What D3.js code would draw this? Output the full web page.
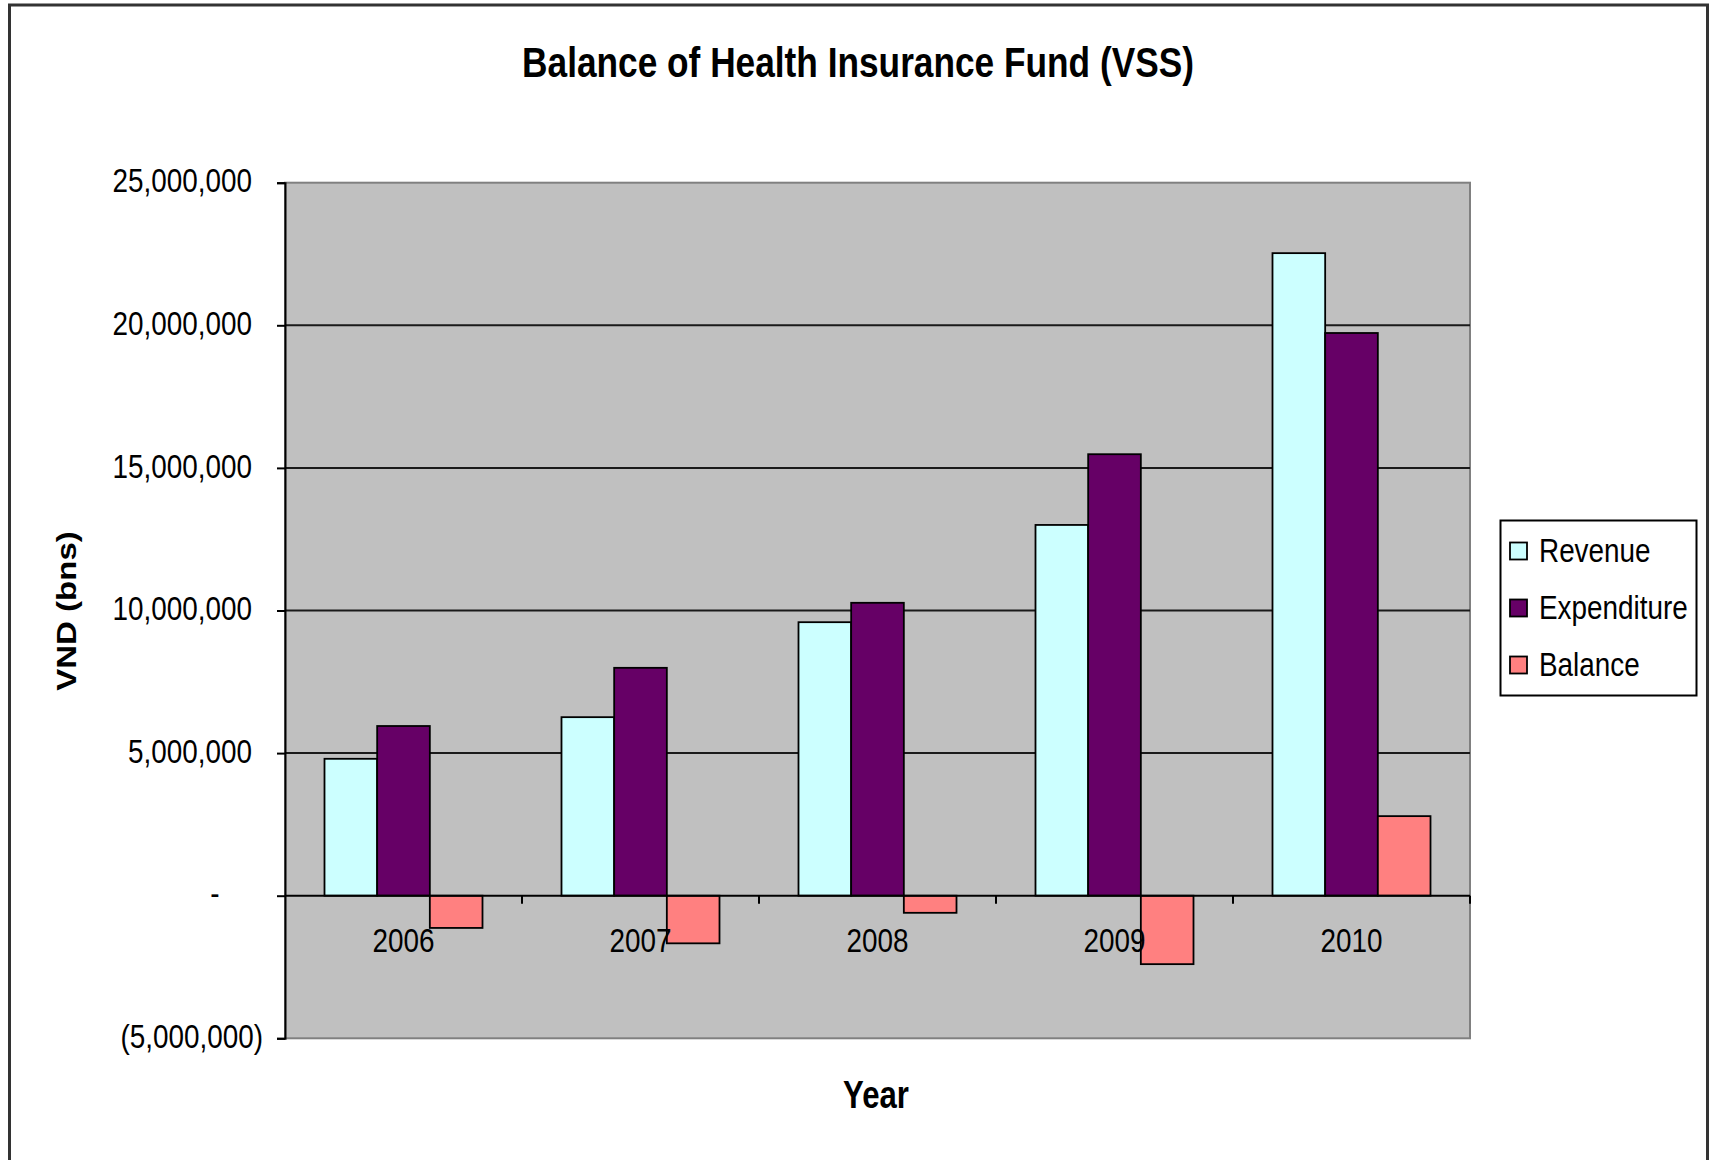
<!DOCTYPE html>
<html>
<head>
<meta charset="utf-8">
<script src="https://cdn.jsdelivr.net/npm/d3@7"></script>
<style>
    html, body { margin: 0; padding: 0; background: #fff; }
    text { font-family: "Liberation Sans", Arial, sans-serif; fill: #000; }
</style>
</head>
<body>
<div id="chart"></div>
<script>
const width = 1711;
const height = 1160;

// data (VND bns)
const years = ["2006", "2007", "2008", "2009", "2010"];
const seriesNames = ["Revenue", "Expenditure", "Balance"];
const revenue = [4800000, 6260000, 9590000, 13000000, 22530000];
const expenditure = [5950000, 7990000, 10270000, 15480000, 19730000];
const balance = [-1130000, -1670000, -600000, -2400000, 2790000];
const yTicks = [-5000000, 0, 5000000, 10000000, 15000000, 20000000, 25000000];

const colors = {
    Revenue: "#ccffff",
    Expenditure: "#660066",
    Balance: "#ff8080"
};

const plot = { left: 285, right: 1470, top: 182.7, bottom: 1038.3 };

// the original text is horizontally narrow, so squeeze it
const narrow = 0.82;
const squeeze = (x, y) => `translate(${x},${y}) scale(${narrow},1)`;

const svg = d3.select("#chart")
    .append("svg")
    .attr("width", width)
    .attr("height", height);

// outer chart border
svg.append("rect")
    .attr("x", 9.5)
    .attr("y", 5)
    .attr("width", 1698)
    .attr("height", 1180)
    .attr("fill", "#fff")
    .attr("stroke", "#333")
    .attr("stroke-width", 3);

const x0 = d3.scaleBand()
    .domain(years)
    .range([plot.left, plot.right])
    .paddingInner(1 / 3)
    .paddingOuter(1 / 6);

const x1 = d3.scaleBand()
    .domain(seriesNames)
    .range([0, x0.bandwidth()]);

const y = d3.scaleLinear()
    .domain([-5000000, 25000000])
    .range([plot.bottom, plot.top]);

// plot area
svg.append("rect")
    .attr("x", plot.left)
    .attr("y", plot.top)
    .attr("width", plot.right - plot.left)
    .attr("height", plot.bottom - plot.top)
    .attr("fill", "#c0c0c0")
    .attr("stroke", "#808080")
    .attr("stroke-width", 2);

// gridlines
svg.append("g")
    .selectAll("line")
    .data(yTicks.filter(d => d > 0 && d < 25000000))
    .enter()
    .append("line")
    .attr("x1", plot.left)
    .attr("x2", plot.right)
    .attr("y1", d => y(d))
    .attr("y2", d => y(d))
    .attr("stroke", "#1a1a1a")
    .attr("stroke-width", 2);

// bars
const rows = years.map((yr, i) => ({
    year: yr,
    values: [
        { key: "Revenue", value: revenue[i] },
        { key: "Expenditure", value: expenditure[i] },
        { key: "Balance", value: balance[i] }
    ]
}));

svg.append("g")
    .selectAll("g")
    .data(rows)
    .enter()
    .append("g")
    .attr("transform", d => `translate(${x0(d.year)},0)`)
    .selectAll("rect")
    .data(d => d.values)
    .enter()
    .append("rect")
    .attr("x", d => x1(d.key))
    .attr("width", x1.bandwidth())
    .attr("y", d => y(Math.max(0, d.value)))
    .attr("height", d => Math.abs(y(d.value) - y(0)))
    .attr("fill", d => colors[d.key])
    .attr("stroke", "#000")
    .attr("stroke-width", 1.8);

// y axis, accounting style labels
const fmt = d3.format(",");
const yAxis = d3.axisLeft(y)
    .tickValues(yTicks)
    .tickSize(8)
    .tickPadding(0)
    .tickFormat(d => d === 0 ? "-" : d < 0 ? `(${fmt(-d)})` : fmt(d));

const yAxisG = svg.append("g")
    .attr("transform", `translate(${plot.left},0)`)
    .call(yAxis);

yAxisG.select(".domain").attr("stroke", "#000").attr("stroke-width", 2);
yAxisG.selectAll(".tick line").attr("stroke", "#000").attr("stroke-width", 2);
yAxisG.selectAll(".tick text")
    .attr("font-size", 34)
    .attr("font-family", null)
    .attr("fill", "#000")
    .attr("dy", "0.27em")
    .attr("text-anchor", d => d === 0 ? "middle" : "end")
    .attr("x", 0)
    .attr("transform", d => squeeze(d === 0 ? -70 : d < 0 ? -22 : -33, 0));

// x axis along zero
svg.append("line")
    .attr("x1", plot.left)
    .attr("x2", plot.right)
    .attr("y1", y(0))
    .attr("y2", y(0))
    .attr("stroke", "#000")
    .attr("stroke-width", 2);

const boundaries = years.map(d => x0(d) - x0.step() * x0.paddingInner() / 2)
    .concat([plot.right]);

svg.append("g")
    .selectAll("line")
    .data(boundaries.slice(1))
    .enter()
    .append("line")
    .attr("x1", d => d)
    .attr("x2", d => d)
    .attr("y1", y(0))
    .attr("y2", y(0) + 8)
    .attr("stroke", "#000")
    .attr("stroke-width", 2);

svg.append("g")
    .selectAll("text")
    .data(years)
    .enter()
    .append("text")
    .attr("transform", d => squeeze(x0(d) + x0.bandwidth() / 2, 952))
    .attr("text-anchor", "middle")
    .attr("font-size", 34)
    .text(d => d);

// titles
svg.append("text")
    .attr("transform", squeeze(858, 77))
    .attr("text-anchor", "middle")
    .attr("font-size", 43)
    .attr("font-weight", "bold")
    .text("Balance of Health Insurance Fund (VSS)");

svg.append("text")
    .attr("transform", squeeze(876, 1108))
    .attr("text-anchor", "middle")
    .attr("font-size", 38)
    .attr("font-weight", "bold")
    .text("Year");

svg.append("text")
    .attr("transform", "translate(66,611) scale(0.85,1) rotate(-90)")
    .attr("text-anchor", "middle")
    .attr("dy", "0.35em")
    .attr("font-size", 33)
    .attr("font-weight", "bold")
    .text("VND (bns)");

// legend
const legend = svg.append("g");

legend.append("rect")
    .attr("x", 1500.5)
    .attr("y", 520.5)
    .attr("width", 196)
    .attr("height", 175)
    .attr("fill", "#fff")
    .attr("stroke", "#000")
    .attr("stroke-width", 2);

const item = legend.selectAll("g.item")
    .data(seriesNames)
    .enter()
    .append("g")
    .attr("class", "item")
    .attr("transform", (d, i) => `translate(1510,${551 + i * 57})`);

item.append("rect")
    .attr("x", 0)
    .attr("y", -8.5)
    .attr("width", 17)
    .attr("height", 17)
    .attr("fill", d => colors[d])
    .attr("stroke", "#000")
    .attr("stroke-width", 1.8);

item.append("text")
    .attr("transform", squeeze(29, 0))
    .attr("dy", "0.33em")
    .attr("font-size", 34)
    .text(d => d);
</script>
</body>
</html>
